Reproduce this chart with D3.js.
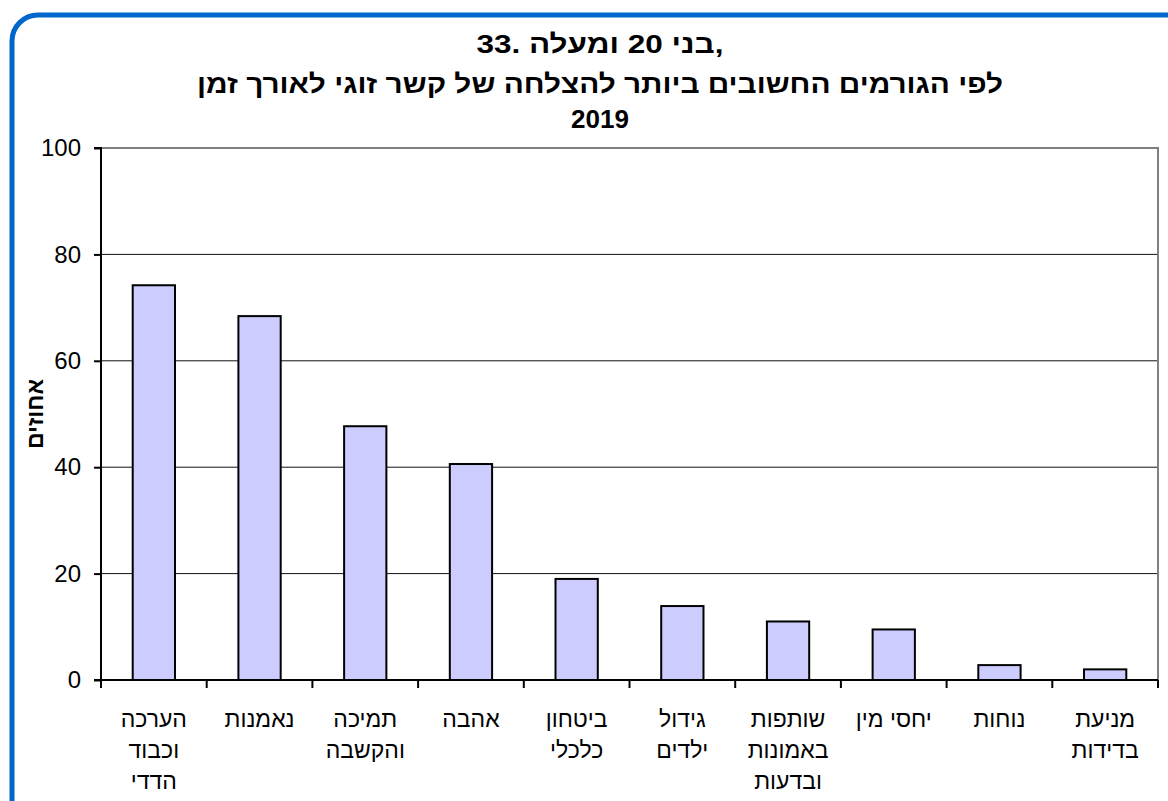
<!DOCTYPE html>
<html><head><meta charset="utf-8">
<script src="https://cdn.jsdelivr.net/npm/d3@7"></script>
<style>html,body{margin:0;padding:0;background:#fff;}svg{display:block;}</style>
</head><body>
<svg id="chart" width="1168" height="801"></svg>
<script>
const categories = [
  ["הערכה","וכבוד","הדדי"],
  ["נאמנות"],
  ["תמיכה","והקשבה"],
  ["אהבה"],
  ["ביטחון","כלכלי"],
  ["גידול","ילדים"],
  ["שותפות","באמונות","ובדעות"],
  ["יחסי מין"],
  ["נוחות"],
  ["מניעת","בדידות"]
];
const values = [74.2, 68.4, 47.7, 40.6, 19.0, 13.9, 11.0, 9.5, 2.8, 2.0];
const yTicks = [0, 20, 40, 60, 80, 100];
const titleLines = ["33. בני 20 ומעלה,", "לפי הגורמים החשובים ביותר להצלחה של קשר זוגי לאורך זמן", "2019"];
const yTitle = "אחוזים";

const svg = d3.select("#chart");
const font = "'Liberation Sans', Arial, sans-serif";

// outer frame
svg.append("rect").attr("x", 12).attr("y", 15).attr("width", 1200).attr("height", 840)
  .attr("rx", 26).attr("ry", 26).attr("fill", "#fff").attr("stroke", "#0066CC").attr("stroke-width", 5);

const L = 101, R = 1158, T = 148, B = 680;
const idx = categories.map((d, i) => i);
const x = d3.scaleBand().domain(idx).range([L, R]).paddingInner(0).paddingOuter(0);
const y = d3.scaleLinear().domain([0, 100]).range([B, T]);

// gridlines
svg.append("g").selectAll("line").data(yTicks.filter(v => v > 0 && v < 100)).join("line")
  .attr("x1", L).attr("x2", R).attr("y1", d => y(d)).attr("y2", d => y(d))
  .attr("stroke", "#111").attr("stroke-width", 1);
// plot border top/right
svg.append("path").attr("d", `M${L},${y(100)}H${R}V${B}`).attr("fill", "none")
  .attr("stroke", "#808080").attr("stroke-width", 2);

// bars
const bw = x.bandwidth() / 2.5;
svg.append("g").selectAll("rect").data(values).join("rect")
  .attr("x", (d, i) => x(i) + (x.bandwidth() - bw) / 2)
  .attr("y", d => y(d)).attr("width", bw).attr("height", d => B - y(d))
  .attr("fill", "#CCCCFF").attr("stroke", "#000").attr("stroke-width", 2);

// y axis
const yAxis = d3.axisLeft(y).tickValues(yTicks).tickSize(7).tickPadding(13).tickFormat(d3.format("d"));
const gy = svg.append("g").attr("transform", `translate(${L},0)`).call(yAxis);
gy.select(".domain").attr("stroke", "#000").attr("stroke-width", 2).attr("d", `M-7,${T}H0V${B}H-7`);
gy.selectAll(".tick line").attr("stroke", "#000").attr("stroke-width", 2);
gy.selectAll(".tick text").attr("font-family", font).attr("font-size", 24).attr("fill", "#000");

// x axis
const gx = svg.append("g").attr("transform", `translate(0,${B})`);
gx.append("line").attr("x1", L).attr("x2", R).attr("y1", 0).attr("y2", 0).attr("stroke", "#000").attr("stroke-width", 2);
const bounds = idx.map(i => x(i)).concat([R]);
gx.selectAll("line.tk").data(bounds).join("line").attr("class", "tk")
  .attr("x1", d => d).attr("x2", d => d).attr("y1", 0).attr("y2", 8)
  .attr("stroke", "#000").attr("stroke-width", 2);
const lbl = gx.selectAll("text.cat").data(categories).join("text").attr("class", "cat")
  .attr("x", (d, i) => x(i) + x.bandwidth() / 2).attr("y", 47)
  .attr("text-anchor", "middle").attr("font-family", font).attr("font-size", 23).attr("fill", "#000");
lbl.selectAll("tspan").data(d => d).join("tspan")
  .attr("x", function () { return d3.select(this.parentNode).attr("x"); })
  .attr("dy", (d, i) => i === 0 ? 0 : 31).text(d => d);

// y title
svg.append("text").attr("transform", `translate(43,414) rotate(-90)`).attr("text-anchor", "middle")
  .attr("font-family", font).attr("font-weight", "bold").attr("font-size", 23).text(yTitle);

// title
const titleY = [53, 93, 128];
const titleW = [247, 806, null];
titleLines.forEach((t, i) => {
  const el = svg.append("text").attr("x", 600).attr("y", titleY[i]).attr("text-anchor", "middle")
    .attr("direction", "ltr").attr("font-family", font).attr("font-weight", "bold")
    .attr("font-size", 26).attr("fill", "#000").text(t);
  if (titleW[i]) el.attr("textLength", titleW[i]).attr("lengthAdjust", "spacingAndGlyphs");
});
</script>
</body></html>
